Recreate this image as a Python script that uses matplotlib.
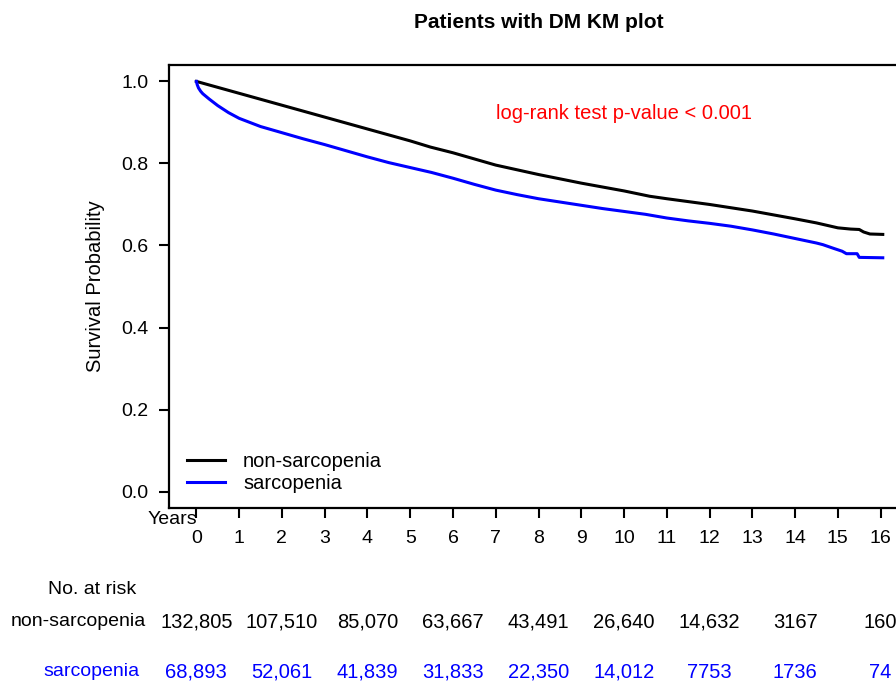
import matplotlib
matplotlib.use("Agg")
import matplotlib.pyplot as plt
import matplotlib.transforms as mtransforms

plt.rcParams['font.family'] = ['Liberation Sans', 'DejaVu Sans']

# Courbes de survie
t_non = [0, 1, 2, 3, 4, 5, 5.47, 6, 7, 8, 9, 10, 10.6, 11, 12, 13, 14, 14.5, 15,
         15.3, 15.5, 15.6, 15.75, 16.05]
s_non = [1.0, 0.971, 0.942, 0.913, 0.884, 0.855, 0.840, 0.826, 0.796, 0.773, 0.752,
         0.733, 0.720, 0.714, 0.700, 0.684, 0.665, 0.655, 0.643, 0.640, 0.639, 0.633,
         0.628, 0.627]

t_sar = [0, 0.02, 0.05, 0.1, 0.15, 0.3, 0.5, 0.75, 1.0, 1.5, 2.0, 2.5, 3.0, 3.5, 4.0,
         4.5, 5.0, 5.5, 6.0, 6.5, 7.0, 7.5, 8.0, 8.5, 9.0, 9.5, 10.0, 10.5, 11.0, 11.5,
         12.0, 12.5, 13.0, 13.5, 14.0, 14.5, 14.65, 14.9, 15.1, 15.2, 15.45, 15.5, 16.05]
s_sar = [1.0, 0.992, 0.984, 0.976, 0.970, 0.957, 0.941, 0.924, 0.910, 0.890, 0.875,
         0.860, 0.846, 0.831, 0.816, 0.802, 0.790, 0.778, 0.764, 0.749, 0.735, 0.724,
         0.714, 0.706, 0.698, 0.690, 0.683, 0.676, 0.667, 0.660, 0.654, 0.647, 0.638,
         0.628, 0.617, 0.606, 0.602, 0.593, 0.586, 0.580, 0.580, 0.571, 0.570]

# Nombre de sujets à risque
risk_years = [0, 2, 4, 6, 8, 10, 12, 14, 16]
risk_non = [132805, 107510, 85070, 63667, 43491, 26640, 14632, 3167, 160]
risk_sar = [68893, 52061, 41839, 31833, 22350, 14012, 7753, 1736, 74]

x_ticks = list(range(0, 17))
y_ticks = [0.0, 0.2, 0.4, 0.6, 0.8, 1.0]


def fmt(n):
    return f"{n:,}" if n >= 10000 else str(n)


W, H = 896, 681
fig = plt.figure(figsize=(W / 100, H / 100), dpi=100)
ax = fig.add_axes([169 / W, 1 - 508 / H, 739 / W, 443 / H])

ax.plot(t_non, s_non, color='black', lw=2.2, label='non-sarcopenia')
ax.plot(t_sar, s_sar, color='#0000ff', lw=2.2, label='sarcopenia')

ax.set_xlim(-0.64, 16.64)
ax.set_ylim(-0.04, 1.04)
ax.set_xticks(x_ticks)
ax.set_yticks(y_ticks)
ax.set_yticklabels([f"{v:.1f}" for v in y_ticks])
ax.tick_params(axis='both', direction='out', length=7, width=1.5, labelsize=14)
ax.tick_params(axis='x', pad=9)
ax.tick_params(axis='y', pad=8)
for sp in ax.spines.values():
    sp.set_linewidth(1.6)

ax.set_ylabel('Survival Probability', fontsize=14.5)
ax.yaxis.set_label_coords(-0.087, 0.5)

ax.legend(loc='upper left', bbox_to_anchor=(0.024, 0.126), frameon=False,
          fontsize=14.5, handlelength=1.9, handletextpad=0.9, labelspacing=0.12,
          borderpad=0, borderaxespad=0)

ax.text(0.6157, 0.8916, 'log-rank test p-value < 0.001', transform=ax.transAxes,
        color='#ff0000', fontsize=14.5, ha='center', va='center')

fig.text(539 / W, 1 - 23 / H, 'Patients with DM KM plot', fontsize=15,
         fontweight='bold', ha='center', va='center')
fig.text(197 / W, 1 - 519 / H, 'Years', fontsize=14, ha='right', va='center')

# Tableau des effectifs à risque
fig.text(92 / W, 1 - 590 / H, 'No. at risk', fontsize=14, ha='center', va='center')
fig.text(78 / W, 1 - 622 / H, 'non-sarcopenia', fontsize=14, ha='center', va='center')
fig.text(91 / W, 1 - 672 / H, 'sarcopenia', fontsize=14, ha='center', va='center',
         color='#0000ff')

trans = mtransforms.blended_transform_factory(ax.transData, fig.transFigure)
for yr, n in zip(risk_years, risk_non):
    ax.text(yr, 1 - 622 / H, fmt(n), transform=trans, fontsize=14.5, ha='center',
            va='center', clip_on=False)
for yr, n in zip(risk_years, risk_sar):
    ax.text(yr, 1 - 672 / H, fmt(n), transform=trans, fontsize=14.5, ha='center',
            va='center', color='#0000ff', clip_on=False)

fig.savefig('out.png', dpi=100)
